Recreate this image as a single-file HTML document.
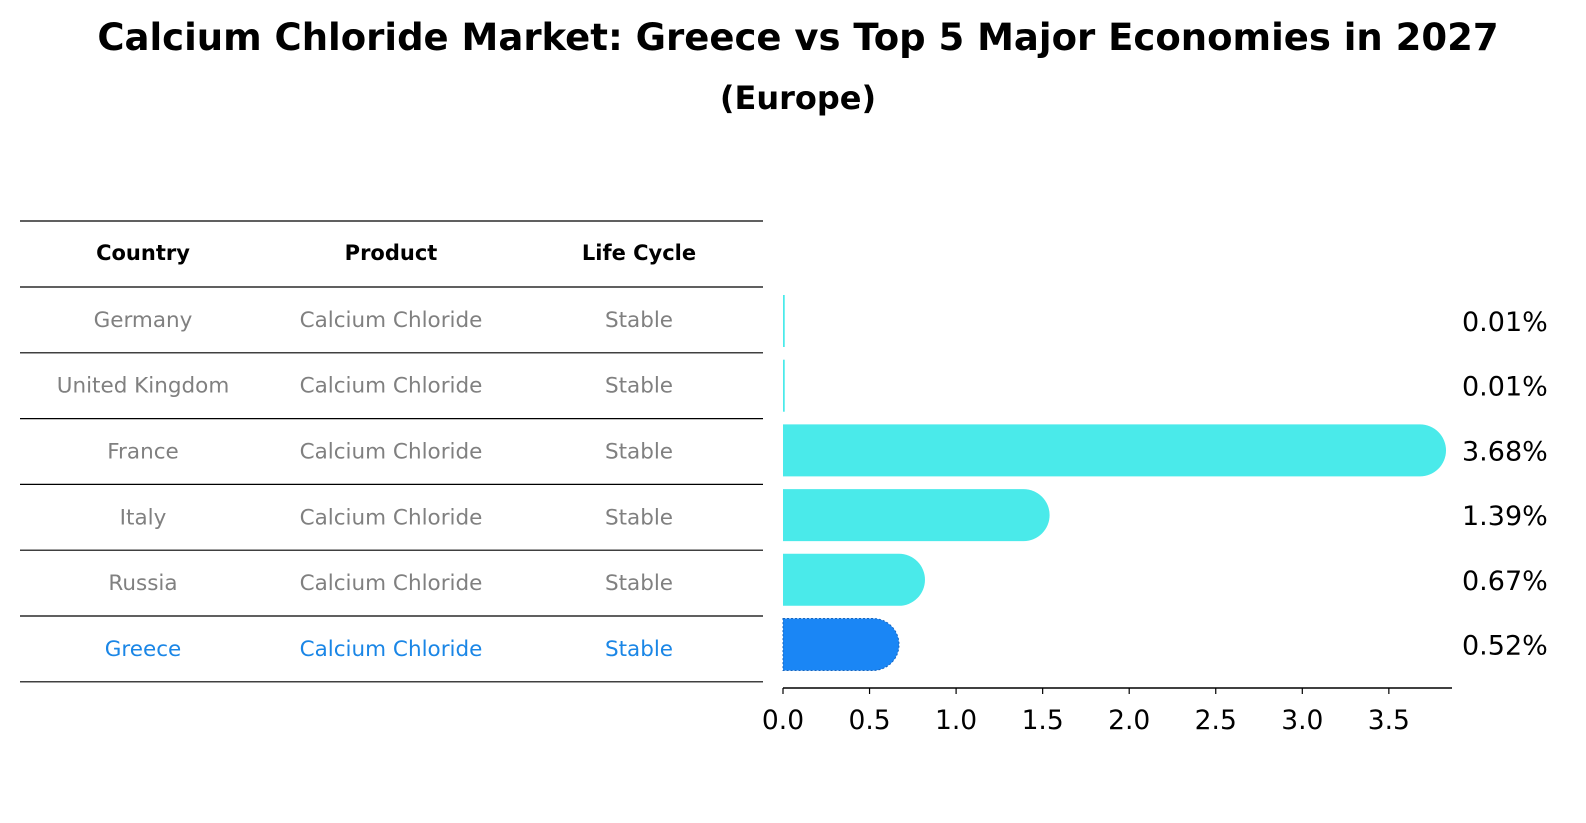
<!DOCTYPE html>
<html><head><meta charset="utf-8">
<style>
html,body{margin:0;padding:0;background:#fff;overflow:hidden;}
svg{display:block;font-family:"DejaVu Sans","Liberation Sans",sans-serif;}
</style></head>
<body>
<svg id="c" width="1586" height="823" viewBox="0 0 1586 823" xmlns="http://www.w3.org/2000/svg">
<text x="798" y="50" text-anchor="middle" font-size="37" font-weight="bold">Calcium Chloride Market: Greece vs Top 5 Major Economies in 2027</text>
<text x="798" y="109" text-anchor="middle" font-size="32" font-weight="bold">(Europe)</text>
<g id="table"></g>
<g id="bars"></g>
</svg>
<script>
const countries=["Germany","United Kingdom","France","Italy","Russia","Greece"];
const products=["Calcium Chloride","Calcium Chloride","Calcium Chloride","Calcium Chloride","Calcium Chloride","Calcium Chloride"];
const lifeCycles=["Stable","Stable","Stable","Stable","Stable","Stable"];
const values=[0.01,0.01,3.68,1.39,0.67,0.52];
const valueLabels=["0.01%","0.01%","3.68%","1.39%","0.67%","0.52%"];
const xTicks=[0,0.5,1,1.5,2,2.5,3,3.5];
const xTickLabels=["0.0","0.5","1.0","1.5","2.0","2.5","3.0","3.5"];

const NS="http://www.w3.org/2000/svg";
function mk(tag,attrs,parent,text){const e=document.createElementNS(NS,tag);for(const k in attrs)e.setAttribute(k,attrs[k]);if(text!==undefined)e.textContent=text;parent.appendChild(e);return e;}
const x0=783,xScale=173.1;
const xs=v=>x0+v*xScale;
const rowY=i=>321+i*64.7;
const barH=52;

const tb=document.getElementById('table');
const lineYs=[221,287];
for(let i=0;i<countries.length;i++)lineYs.push(287+(i+1)*65.8);
lineYs.forEach((y,i)=>{const l=mk('line',{x1:20,x2:763,y1:y,y2:y,stroke:'#000','stroke-width':1.2},tb);

});
const colX=[143,391,639];
["Country","Product","Life Cycle"].forEach((h,j)=>{const t=mk('text',{x:colX[j],y:260,'text-anchor':'middle','font-size':21,'font-weight':'bold'},tb,h);

});
countries.forEach((c,i)=>{
  const y=(lineYs[i+1]+lineYs[i+2])/2+7;
  const col=i===countries.length-1?'#1a86e6':'#808080';
  [c,products[i],lifeCycles[i]].forEach((v,j)=>{const t=mk('text',{x:colX[j],y:y,'text-anchor':'middle','font-size':21.5,fill:col},tb,v);
  
  });
});

const bg=document.getElementById('bars');
values.forEach((v,i)=>{
  const cy=rowY(i),top=cy-barH/2,xe=xs(v);
  const isG=i===values.length-1;
  const col=isG?'#1a86f5':'#4aeaea';
  let d;
  const w=xe-x0;
  if(w<3){d=`M${x0},${top}h${Math.max(w,1.5)}v${barH}h${-Math.max(w,1.5)}Z`;}
  else d=`M${x0},${top}H${xe}A${barH/2},${barH/2} 0 0 1 ${xe},${top+barH}H${x0}Z`;
  const p=mk('path',{d:d,fill:col},bg);
  if(isG){p.setAttribute('stroke','#1565c0');p.setAttribute('stroke-width','1');p.setAttribute('stroke-dasharray','2,2');}
  
  
  const t=mk('text',{x:1462,y:cy+10,'font-size':27},bg,valueLabels[i]);
  
  
});
const ax=mk('line',{x1:x0,x2:1452,y1:688,y2:688,stroke:'#000','stroke-width':1.5},bg);


xTicks.forEach((v,i)=>{
  const tk=mk('line',{x1:xs(v),x2:xs(v),y1:688,y2:694,stroke:'#000','stroke-width':1.2},bg);
  
  
  const t=mk('text',{x:xs(v),y:729,'text-anchor':'middle','font-size':26.5},bg,xTickLabels[i]);
  
  
});
</script>
</body></html>
